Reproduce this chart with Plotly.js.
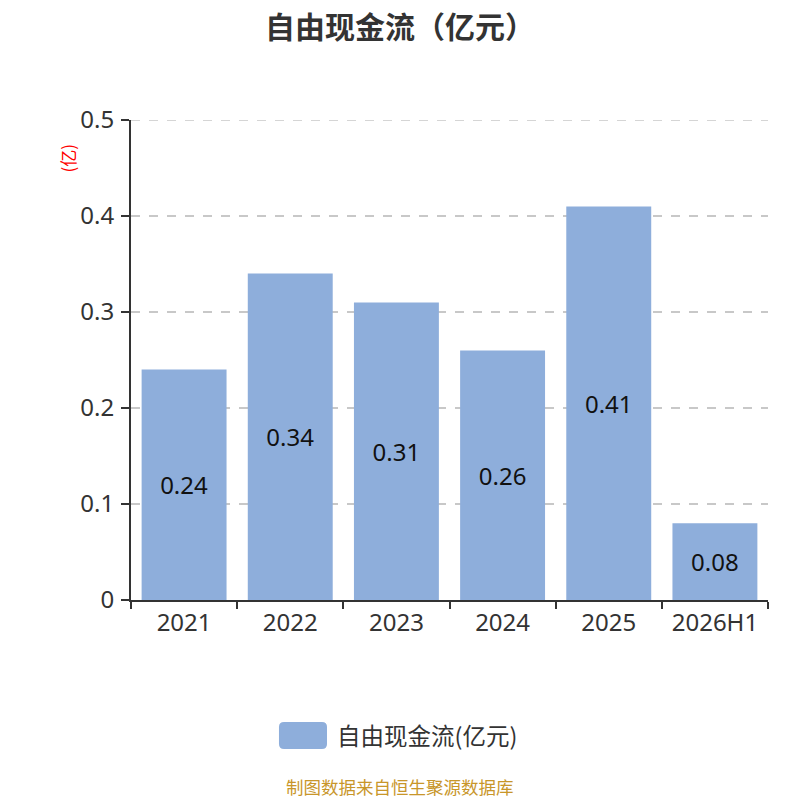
<!DOCTYPE html>
<html><head><meta charset="utf-8">
<script src="https://cdn.plot.ly/plotly-3.0.1.min.js"></script>
<style>body{margin:0;background:#fff}#c{width:800px;height:800px}</style>
</head><body><div id="c"></div>
<script>
var categories = ["2021","2022","2023","2024","2025","2026H1"];
var values = [0.24, 0.34, 0.31, 0.26, 0.41, 0.08];
var seriesName = "自由现金流(亿元)";
var yTickVals = [0, 0.1, 0.2, 0.3, 0.4, 0.5];
var yTickText = ["0", "0.1", "0.2", "0.3", "0.4", "0.5"];
var F = '"Noto Sans", "Noto Sans CJK SC", sans-serif';
var FC = '"Noto Sans CJK SC", sans-serif';
var trace = {
  type:'bar', x:categories, y:values, name:seriesName,
  marker:{color:'#8eaedb'},
  text:values.map(function(v){return v.toFixed(2);}),
  textposition:'inside', insidetextanchor:'middle',
  textfont:{size:24,color:'#111',family:F},
  hoverinfo:'none', showlegend:false
};
var layout = {
  width:800, height:800,
  margin:{l:131,r:32,t:120,b:200},
  paper_bgcolor:'#fff', plot_bgcolor:'#fff',
  font:{family:F,color:'#333'},
  title:{text:'<b>自由现金流（亿元）</b>', x:0.5, xanchor:'center', y:0.966, yanchor:'middle', font:{size:30,color:'#333',family:FC}},
  bargap:0.2,
  showlegend:false,
  xaxis:{type:'category', showline:true, linecolor:'#333', linewidth:2, ticks:'outside', ticklen:7, tickcolor:'#333', tickwidth:2,
    tickson:'boundaries', tickfont:{size:24,color:'#333',family:F}, showgrid:false},
  yaxis:{range:[0,0.5], tickvals:yTickVals, ticktext:yTickText, showline:true, linecolor:'#333', linewidth:2, ticks:'outside', ticklen:8, tickcolor:'#333', tickwidth:2,
    tickfont:{size:24,color:'#333',family:F}, gridcolor:'#c8c8c8', griddash:'dash', gridwidth:1.5, zeroline:false,
    ticklabelstandoff:2},
  shapes:[
    {type:'line', xref:'paper', yref:'y', x0:0, x1:1, y0:yTickVals[5], y1:yTickVals[5], line:{color:'#c8c8c8', width:1.5, dash:'dash'}, layer:'below'},
    {type:'path', xref:'paper', yref:'paper', path:'', fillcolor:'#8eaedb', line:{width:0}}
  ],
  annotations:[
    {text:'(亿)', xref:'paper', yref:'paper', x:-0.099, xanchor:'center', y:0.922, yanchor:'middle', textangle:-90, showarrow:false, font:{size:17,color:'#ff0000',family:FC}},
    {text:seriesName, xref:'paper', yref:'paper', x:0.3202, xanchor:'left', y:-0.281, yanchor:'middle', showarrow:false, font:{size:23.5,color:'#333',family:FC}},
    {text:'制图数据来自恒生聚源数据库', xref:'paper', yref:'paper', x:0.422, xanchor:'center', y:-0.388, yanchor:'middle', showarrow:false, font:{size:17.5,color:'#c8962a',family:FC}}
  ]
};
(function(){
  var pw = 800-131-32, ph = 800-120-200;
  function px(x){return ((x-131)/pw).toFixed(4);}
  function py(y){return ((800-200-y)/ph).toFixed(4);}
  var x0=279,x1=327,y0=722,y1=749,r=5;
  var p='M'+px(x0+r)+','+py(y0)+' L'+px(x1-r)+','+py(y0)+' Q'+px(x1)+','+py(y0)+' '+px(x1)+','+py(y0+r)+
    ' L'+px(x1)+','+py(y1-r)+' Q'+px(x1)+','+py(y1)+' '+px(x1-r)+','+py(y1)+
    ' L'+px(x0+r)+','+py(y1)+' Q'+px(x0)+','+py(y1)+' '+px(x0)+','+py(y1-r)+
    ' L'+px(x0)+','+py(y0+r)+' Q'+px(x0)+','+py(y0)+' '+px(x0+r)+','+py(y0)+' Z';
  layout.shapes[1].path=p;
})();
Plotly.newPlot('c',[trace],layout,{displayModeBar:false});
</script></body></html>
